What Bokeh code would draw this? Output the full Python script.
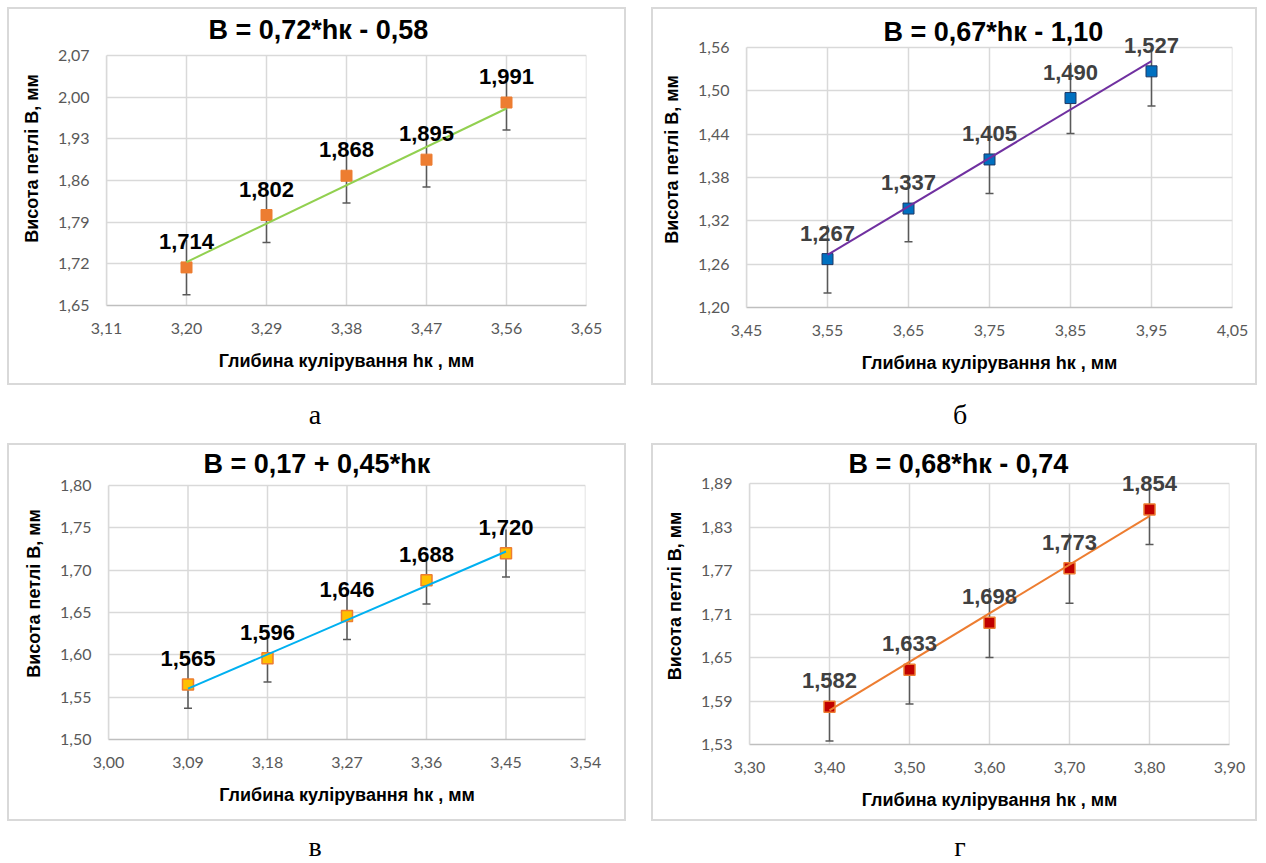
from bokeh.plotting import figure
from bokeh.models import Range1d, FixedTicker, CustomJSTickFormatter, ColumnDataSource, Label, Div, Spacer
from bokeh.layouts import column, row
from bokeh.embed import file_html
from bokeh.resources import INLINE

# ---------------- data ----------------
# panel а
a_title = "B = 0,72*hк - 0,58"
a_x = [3.20, 3.29, 3.38, 3.47, 3.56]
a_y = [1.714, 1.802, 1.868, 1.895, 1.991]
a_err = [0.046, 0.046, 0.046, 0.046, 0.046]
a_trend_x = [3.20, 3.56]
a_trend_y = [1.723, 1.981]
a_xticks = [3.11, 3.20, 3.29, 3.38, 3.47, 3.56, 3.65]
a_yticks = [1.65, 1.72, 1.79, 1.86, 1.93, 2.00, 2.07]

# panel б
b_title = "B = 0,67*hк - 1,10"
b_x = [3.55, 3.65, 3.75, 3.85, 3.95]
b_y = [1.267, 1.337, 1.405, 1.490, 1.527]
b_err = [0.047, 0.046, 0.047, 0.049, 0.048]
b_trend_x = [3.55, 3.95]
b_trend_y = [1.273, 1.541]
b_xticks = [3.45, 3.55, 3.65, 3.75, 3.85, 3.95, 4.05]
b_yticks = [1.20, 1.26, 1.32, 1.38, 1.44, 1.50, 1.56]

# panel в
c_title = "B = 0,17 + 0,45*hк"
c_x = [3.09, 3.18, 3.27, 3.36, 3.45]
c_y = [1.565, 1.596, 1.646, 1.688, 1.720]
c_err = [0.028, 0.028, 0.028, 0.028, 0.028]
c_trend_x = [3.09, 3.45]
c_trend_y = [1.560, 1.722]
c_xticks = [3.00, 3.09, 3.18, 3.27, 3.36, 3.45, 3.54]
c_yticks = [1.50, 1.55, 1.60, 1.65, 1.70, 1.75, 1.80]

# panel г
d_title = "B = 0,68*hк - 0,74"
d_x = [3.40, 3.50, 3.60, 3.70, 3.80]
d_y = [1.582, 1.633, 1.698, 1.773, 1.854]
d_err = [0.047, 0.047, 0.048, 0.048, 0.048]
d_trend_x = [3.40, 3.80]
d_trend_y = [1.577, 1.845]
d_xticks = [3.30, 3.40, 3.50, 3.60, 3.70, 3.80, 3.90]
d_yticks = [1.53, 1.59, 1.65, 1.71, 1.77, 1.83, 1.89]

x_label = "Глибина кулірування hк , мм"
y_label = "Висота петлі B, мм"
panel_letters = ["а", "б", "в", "г"]

GRID = "#d9d9d9"
FMT = "return tick.toFixed(2).replace('.', ',');"


def make_panel(title, xs, ys, errs, tx, ty, xticks, yticks, style, geo):
    # the frame is extended upwards by geo["ext"] px so that the title and the
    # data labels above the plot area are drawn inside it (annotations are clipped)
    y0, y1 = yticks[0], yticks[-1]
    per_px = (y1 - y0) / geo["fh"]
    p = figure(frame_width=geo["fw"], frame_height=geo["fh"] + geo["ext"],
               x_range=Range1d(xticks[0], xticks[-1]),
               y_range=Range1d(y0, y1 + geo["ext"] * per_px),
               output_backend="svg", toolbar_location=None,
               min_border_left=geo["l"], min_border_right=geo["r"],
               min_border_top=geo["t"] - geo["ext"], min_border_bottom=geo["b"],
               background_fill_color="white", border_fill_color="white",
               styles={"outline": "2px solid #d9d9d9"})
    p.frame_align = False
    p.outline_line_color = None

    for ax, ticks in ((p.xaxis[0], xticks), (p.yaxis[0], yticks)):
        ax.ticker = FixedTicker(ticks=ticks)
        ax.formatter = CustomJSTickFormatter(code=FMT)
        ax.major_tick_line_color = None
        ax.minor_tick_line_color = None
        ax.major_tick_out = 0
        ax.major_tick_in = 0
        ax.major_label_text_font = "Lato"
        ax.major_label_text_font_size = "16px"
        ax.major_label_text_color = "#595959"
        ax.axis_line_color = GRID
        ax.axis_line_width = 1.5
        ax.axis_label_text_font = "Liberation Sans"
        ax.axis_label_text_font_size = "18px"
        ax.axis_label_text_font_style = "bold"
        ax.axis_label_text_color = "black"
    p.yaxis[0].bounds = (y0, y1)
    p.xaxis[0].axis_label = x_label
    p.yaxis[0].axis_label = y_label
    p.xaxis[0].major_label_standoff = 17
    p.yaxis[0].major_label_standoff = 17
    p.xaxis[0].axis_label_standoff = 14
    p.yaxis[0].axis_label_standoff = 13
    p.xaxis[0].axis_line_color = "#bfbfbf"

    # horizontal grid from the axis; vertical grid lines limited to the plot area
    p.xgrid.visible = False
    p.ygrid.ticker = FixedTicker(ticks=yticks)
    p.ygrid.grid_line_color = GRID
    p.ygrid.grid_line_width = 1.5
    p.segment(x0=xticks, y0=[y0] * len(xticks), x1=xticks, y1=[y1] * len(xticks),
              line_color=GRID, line_width=1.5)

    src = ColumnDataSource(dict(
        x=xs, y=ys,
        lo=[v - e for v, e in zip(ys, errs)],
        hi=[min(v + e, y1) for v, e in zip(ys, errs)],
    ))
    # error bars
    p.segment(x0="x", y0="lo", x1="x", y1="hi", source=src,
              line_color="#595959", line_width=1.5)
    p.scatter(x="x", y="lo", source=src, marker="dash", size=8,
              line_color="#595959", line_width=1.5)
    # markers
    p.scatter(x="x", y="y", source=src, marker="square", size=11,
              fill_color=style["fill"], line_color=style["edge"],
              line_width=style["edge_w"])
    # trend line
    p.line(tx, ty, line_color=style["trend"], line_width=2)
    # data labels
    for xv, yv in zip(xs, ys):
        p.add_layout(Label(x=xv, y=yv, text=f"{yv:.3f}".replace(".", ","),
                           text_align="center", text_baseline="middle",
                           y_offset=26, text_font="Liberation Sans",
                           text_font_size="22px", text_font_style="bold",
                           text_color=style["lab"]))
    # chart title, above the top-left corner of the plot area
    p.add_layout(Label(x=xticks[0], y=y1, text=title,
                       x_offset=geo["toff"], y_offset=geo["tgap"],
                       text_align="left", text_baseline="middle",
                       text_font="Liberation Sans", text_font_size="27px",
                       text_font_style="bold", text_color="black"))
    return p


pa = make_panel(a_title, a_x, a_y, a_err, a_trend_x, a_trend_y, a_xticks, a_yticks,
                dict(fill="#ED7D31", edge="#ED7D31", edge_w=1, trend="#92D050", lab="black"),
                dict(fw=480, fh=250, l=97, r=38, t=46, b=78, ext=44, toff=102, tgap=26))
pb = make_panel(b_title, b_x, b_y, b_err, b_trend_x, b_trend_y, b_xticks, b_yticks,
                dict(fill="#0070C0", edge="#1F3864", edge_w=1, trend="#7030A0", lab="#404040"),
                dict(fw=486, fh=260, l=93, r=23, t=38, b=76, ext=36, toff=137, tgap=16))
pc = make_panel(c_title, c_x, c_y, c_err, c_trend_x, c_trend_y, c_xticks, c_yticks,
                dict(fill="#FFC000", edge="#ED7D31", edge_w=1.5, trend="#00B0F0", lab="black"),
                dict(fw=477, fh=254, l=99, r=39, t=40, b=80, ext=38, toff=95, tgap=22))
pd_ = make_panel(d_title, d_x, d_y, d_err, d_trend_x, d_trend_y, d_xticks, d_yticks,
                 dict(fill="#C00000", edge="#ED7D31", edge_w=1.5, trend="#ED7D31", lab="#404040"),
                 dict(fw=480, fh=261, l=96, r=26, t=38, b=75, ext=36, toff=99, tgap=20))


def letter(txt, w, h, pad_top, pad_l, pad_r):
    html = (f'<div style="box-sizing:border-box; width:{w}px; font-family:\'Liberation Serif\'; '
            f'font-size:28px; line-height:28px; text-align:center; padding-top:{pad_top}px; '
            f'padding-left:{pad_l}px; padding-right:{pad_r}px; color:black;">{txt}</div>')
    return Div(text=html, width=w, height=h, margin=0)


layout = column(
    Spacer(height=9),
    row(Spacer(width=9), pa, Spacer(width=29), pb),
    row(Spacer(width=9), letter(panel_letters[0], 615, 62, 18, 0, 3), Spacer(width=29),
        letter(panel_letters[1], 602, 62, 18, 12, 0)),
    row(Spacer(width=9), pc, Spacer(width=29), pd_),
    row(Spacer(width=9), letter(panel_letters[2], 615, 44, 14, 0, 3), Spacer(width=29),
        letter(panel_letters[3], 602, 44, 14, 12, 0)),
)

open("out.html", "w").write(file_html(layout, INLINE))
